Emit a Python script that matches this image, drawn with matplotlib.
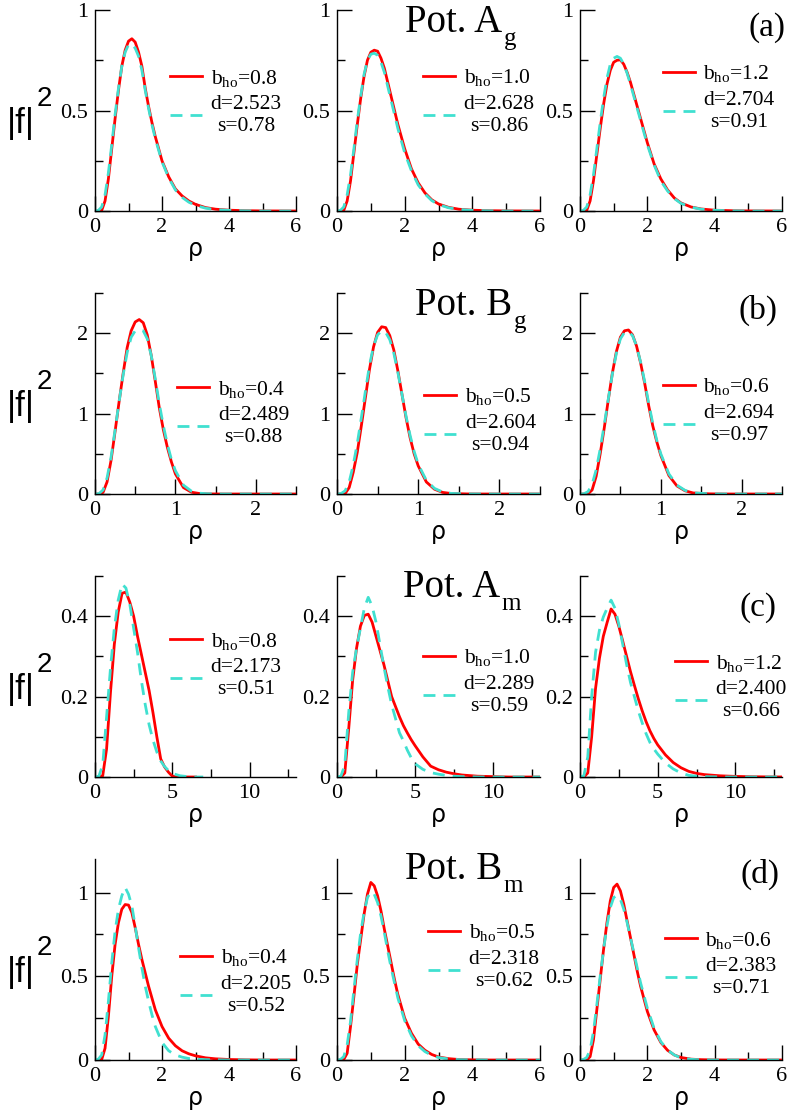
import numpy as np
import matplotlib
matplotlib.use('Agg')
import matplotlib.pyplot as plt

plt.rcParams['font.family'] = ['Liberation Serif', 'DejaVu Serif']
plt.rcParams['mathtext.fontset'] = 'custom'
plt.rcParams['mathtext.rm'] = 'Liberation Serif'
plt.rcParams['mathtext.it'] = 'Liberation Serif:italic'

# ---------------- data ----------------
rho_g = [0, 0.1, 0.2, 0.3, 0.4, 0.5, 0.6, 0.7, 0.8, 0.9, 1.0, 1.1, 1.2, 1.3, 1.4, 1.5,
         1.6, 1.7, 1.8, 2.0, 2.2, 2.4, 2.6, 2.8, 3.0, 3.3, 3.6, 4.0, 4.5, 5.0, 6.0]
rho_bg = [0, 0.05, 0.1, 0.15, 0.2, 0.25, 0.3, 0.35, 0.4, 0.45, 0.5, 0.55, 0.6, 0.65, 0.7,
          0.75, 0.8, 0.85, 0.9, 0.95, 1.0, 1.1, 1.2, 1.3, 1.4, 1.6, 1.8, 2.0, 2.5]
rho_am = [0, 0.25, 0.5, 0.75, 1, 1.25, 1.5, 1.75, 2, 2.25, 2.5, 2.75, 3, 3.25, 3.5, 3.75,
          4, 4.25, 4.5, 4.75, 5, 5.5, 6, 6.5, 7, 7.5, 8, 9, 10, 11, 12, 13]
N = None

# Pot. A_g
ag_red_08 = [0, 0, 0.003, 0.05, 0.16, 0.31, 0.46, 0.60, 0.72, 0.80, 0.845, 0.857, 0.84, 0.79, 0.72, 0.61,
             0.52, 0.44, 0.37, 0.25, 0.17, 0.11, 0.075, 0.05, 0.033, 0.017, 0.009, 0.004, 0.0015, 0.0005, 0]
ag_cyan_08 = [0, 0.003, 0.02, 0.08, 0.19, 0.33, 0.48, 0.61, 0.72, 0.79, 0.828, 0.83, 0.81, 0.77, 0.70, 0.60,
              0.51, 0.43, 0.36, 0.245, 0.165, 0.105, 0.068, 0.044, 0.028, 0.014, 0.007, 0.003, 0.001, 0, 0]
ag_red_10 = [0, 0, 0.003, 0.05, 0.15, 0.29, 0.43, 0.56, 0.67, 0.75, 0.79, 0.80, 0.795, 0.76, 0.71, 0.64,
             0.57, 0.50, 0.43, 0.31, 0.21, 0.14, 0.09, 0.056, 0.035, 0.018, 0.009, 0.004, 0.0015, 0.0005, 0]
ag_cyan_10 = [0, 0.003, 0.02, 0.08, 0.18, 0.31, 0.45, 0.57, 0.68, 0.75, 0.78, 0.785, 0.775, 0.74, 0.69, 0.62,
              0.55, 0.48, 0.41, 0.29, 0.20, 0.13, 0.085, 0.052, 0.032, 0.016, 0.008, 0.003, 0.001, 0, 0]
ag_red_12 = [0, 0, 0.003, 0.05, 0.15, 0.28, 0.41, 0.53, 0.63, 0.70, 0.74, 0.75, 0.752, 0.73, 0.69, 0.64,
             0.58, 0.52, 0.46, 0.34, 0.235, 0.16, 0.105, 0.065, 0.04, 0.02, 0.01, 0.004, 0.0015, 0.0005, 0]
ag_cyan_12 = [0, 0.003, 0.02, 0.08, 0.18, 0.31, 0.44, 0.56, 0.66, 0.73, 0.76, 0.769, 0.76, 0.73, 0.685, 0.63,
              0.57, 0.51, 0.45, 0.33, 0.23, 0.15, 0.10, 0.062, 0.038, 0.019, 0.009, 0.0035, 0.001, 0, 0]

# Pot. B_g
bg_red_04 = [0, 0, 0.02, 0.15, 0.42, 0.78, 1.15, 1.5, 1.82, 2.03, 2.14, 2.17, 2.13, 1.98, 1.72,
             1.4, 1.07, 0.8, 0.58, 0.40, 0.25, 0.08, 0.022, 0.006, 0.0015, 0, 0, 0, 0]
bg_cyan_04 = [0, 0.005, 0.05, 0.2, 0.46, 0.8, 1.15, 1.48, 1.76, 1.95, 2.03, 2.04, 2.03, 1.93, 1.72,
              1.43, 1.12, 0.85, 0.62, 0.43, 0.29, 0.11, 0.035, 0.01, 0.003, 0, 0, 0, 0]
bg_red_05 = [0, 0, 0.005, 0.08, 0.27, 0.52, 0.85, 1.2, 1.55, 1.83, 2.01, 2.08, 2.07, 1.97, 1.79,
             1.53, 1.24, 0.95, 0.7, 0.5, 0.35, 0.15, 0.06, 0.02, 0.007, 0.001, 0, 0, 0]
bg_cyan_05 = [0, 0.005, 0.04, 0.15, 0.36, 0.63, 0.95, 1.28, 1.6, 1.84, 1.98, 2.03, 2.01, 1.92, 1.75,
              1.51, 1.24, 0.97, 0.73, 0.53, 0.37, 0.17, 0.07, 0.025, 0.008, 0.001, 0, 0, 0]
bg_red_06 = [0, 0, 0.003, 0.05, 0.22, 0.5, 0.82, 1.17, 1.5, 1.77, 1.95, 2.03, 2.04, 1.98, 1.84,
             1.63, 1.38, 1.1, 0.85, 0.65, 0.48, 0.23, 0.1, 0.04, 0.013, 0.002, 0, 0, 0]
bg_cyan_06 = [0, 0.003, 0.03, 0.12, 0.3, 0.56, 0.86, 1.18, 1.49, 1.75, 1.93, 2.01, 2.02, 1.97, 1.84,
              1.64, 1.4, 1.13, 0.88, 0.67, 0.5, 0.25, 0.11, 0.045, 0.015, 0.002, 0, 0, 0]

# Pot. A_m
am_red_08 = [0, 0, 0.003, 0.07, 0.21, 0.33, 0.41, 0.457, 0.46, 0.435, 0.4, 0.35, 0.305, 0.26, 0.215, 0.16,
             0.1, 0.045, 0.025, 0.012, 0.002, 0, 0, 0, N, N, N, N, N, N, N, N]
am_cyan_08 = [0, 0.002, 0.03, 0.15, 0.27, 0.37, 0.44, 0.48, 0.47, 0.43, 0.37, 0.31, 0.24, 0.18, 0.13, 0.092,
              0.062, 0.04, 0.026, 0.016, 0.009, 0.003, 0.001, 0, 0, N, N, N, N, N, N, N]
am_red_10 = [0, 0, 0.01, 0.12, 0.24, 0.32, 0.375, 0.402, 0.405, 0.385, 0.35, 0.315, 0.28, 0.24, 0.2, 0.175,
             0.15, 0.128, 0.11, 0.093, 0.078, 0.05, 0.027, 0.018, 0.012, 0.008, 0.005, 0.002, 0.001, 0, 0, 0]
am_cyan_10 = [0, 0.002, 0.03, 0.16, 0.26, 0.32, 0.37, 0.42, 0.447, 0.425, 0.385, 0.33, 0.275, 0.225, 0.18, 0.145,
              0.11, 0.09, 0.067, 0.048, 0.033, 0.019, 0.011, 0.007, 0.004, 0.002, 0.001, 0, 0, 0, 0, 0]
am_red_12 = [0, 0, 0.01, 0.1, 0.22, 0.295, 0.35, 0.385, 0.418, 0.405, 0.375, 0.338, 0.3, 0.262, 0.228, 0.195,
             0.165, 0.138, 0.115, 0.096, 0.08, 0.055, 0.036, 0.023, 0.014, 0.009, 0.006, 0.003, 0.0015, 0.0007, 0.0003, 0.0001]
am_cyan_12 = [0, 0.003, 0.05, 0.2, 0.31, 0.365, 0.398, 0.42, 0.44, 0.42, 0.38, 0.33, 0.28, 0.235, 0.2, 0.165,
              0.135, 0.108, 0.086, 0.07, 0.057, 0.035, 0.02, 0.01, 0.004, 0.002, 0.001, 0, 0, 0, 0, 0]

# Pot. B_m
bm_red_04 = [0, 0, 0.003, 0.07, 0.26, 0.5, 0.69, 0.82, 0.9, 0.928, 0.925, 0.88, 0.79, 0.69, 0.6, 0.52,
             0.44, 0.37, 0.3, 0.2, 0.13, 0.085, 0.055, 0.037, 0.025, 0.013, 0.007, 0.003, 0.001, 0, 0]
bm_cyan_04 = [0, 0.005, 0.03, 0.15, 0.35, 0.58, 0.77, 0.9, 0.98, 1.03, 0.99, 0.92, 0.8, 0.67, 0.55, 0.44,
              0.35, 0.27, 0.2, 0.105, 0.055, 0.03, 0.017, 0.009, 0.005, 0.002, 0.001, 0, 0, 0, 0]
bm_red_05 = [0, 0, 0.003, 0.04, 0.2, 0.38, 0.57, 0.72, 0.87, 0.99, 1.06, 1.04, 0.98, 0.89, 0.78, 0.68,
             0.58, 0.48, 0.39, 0.25, 0.16, 0.095, 0.058, 0.033, 0.018, 0.008, 0.003, 0.001, 0, 0, 0]
bm_cyan_05 = [0, 0.003, 0.02, 0.09, 0.23, 0.42, 0.6, 0.76, 0.88, 0.97, 1.005, 0.99, 0.94, 0.86, 0.76, 0.65,
              0.55, 0.46, 0.37, 0.235, 0.145, 0.085, 0.05, 0.028, 0.015, 0.006, 0.002, 0.001, 0, 0, 0]
bm_red_06 = [0, 0, 0, 0.02, 0.12, 0.3, 0.48, 0.66, 0.82, 0.95, 1.03, 1.05, 1.01, 0.93, 0.83, 0.73,
             0.63, 0.53, 0.44, 0.29, 0.18, 0.105, 0.058, 0.03, 0.015, 0.005, 0.002, 0.0005, 0, 0, 0]
bm_cyan_06 = [0, 0.003, 0.015, 0.06, 0.17, 0.33, 0.5, 0.66, 0.8, 0.91, 0.97, 0.982, 0.96, 0.9, 0.82, 0.73,
              0.64, 0.55, 0.46, 0.31, 0.19, 0.11, 0.06, 0.03, 0.013, 0.004, 0.001, 0, 0, 0, 0]

bho_labels = [['0.8', '1.0', '1.2'], ['0.4', '0.5', '0.6'], ['0.8', '1.0', '1.2'], ['0.4', '0.5', '0.6']]
d_labels = [['2.523', '2.628', '2.704'], ['2.489', '2.604', '2.694'],
            ['2.173', '2.289', '2.400'], ['2.205', '2.318', '2.383']]
s_labels = [['0.78', '0.86', '0.91'], ['0.88', '0.94', '0.97'],
            ['0.51', '0.59', '0.66'], ['0.52', '0.62', '0.71']]
pot_names = ['A', 'B', 'A', 'B']
pot_subs = ['g', 'g', 'm', 'm']
panel_tags = ['(a)', '(b)', '(c)', '(d)']

row_x = [rho_g, rho_bg, rho_am, rho_g]
row_red = [[ag_red_08, ag_red_10, ag_red_12], [bg_red_04, bg_red_05, bg_red_06],
           [am_red_08, am_red_10, am_red_12], [bm_red_04, bm_red_05, bm_red_06]]
row_cyan = [[ag_cyan_08, ag_cyan_10, ag_cyan_12], [bg_cyan_04, bg_cyan_05, bg_cyan_06],
            [am_cyan_08, am_cyan_10, am_cyan_12], [bm_cyan_04, bm_cyan_05, bm_cyan_06]]

xlims = [(0, 6), (0, 2.5), (0, 13), (0, 6)]
ylims = [(0, 1), (0, 2.5), (0, 0.5), (0, 1.2)]
x_major = [[0, 2, 4, 6], [0, 1, 2], [0, 5, 10], [0, 2, 4, 6]]
x_major_lab = [['0', '2', '4', '6'], ['0', '1', '2'], ['0', '5', '10'], ['0', '2', '4', '6']]
x_minor = [[1, 3, 5], [0.5, 1.5, 2.5], [2.5, 7.5, 12.5], [1, 3, 5]]
y_major = [[0, 0.5, 1], [0, 1, 2], [0, 0.2, 0.4], [0, 0.5, 1]]
y_major_lab = [['0', '0.5', '1'], ['0', '1', '2'], ['0', '0.2', '0.4'], ['0', '0.5', '1']]
y_minor = [[0.25, 0.75], [0.5, 1.5, 2.5], [0.1, 0.3, 0.5], [0.25, 0.75]]

# ---------------- layout ----------------
W, H = 789, 1114
fig = plt.figure(figsize=(W / 100, H / 100), dpi=100)
col_left = [95, 337, 580]
col_w = [201, 203, 202]
row_top = [10, 293, 576, 859]
row_h = 201

leg_pos = [[(0.373, 0.667), (0.424, 0.67), (0.41, 0.69)],
           [(0.41, 0.527), (0.43, 0.49), (0.41, 0.54)],
           [(0.373, 0.683), (0.424, 0.60), (0.47, 0.574)],
           [(0.423, 0.515), (0.448, 0.64), (0.42, 0.604)]]
title_pos = [(0.335, 0.89), (0.385, 0.89), (0.325, 0.895), (0.335, 0.90)]
tag_pos = [(1.015, 0.873), (0.98, 0.87), (0.975, 0.80), (0.99, 0.88)]

RED = '#ff0000'
CYAN = '#40e0d0'
LEG_FS = 15.5

for r in range(4):
    for c in range(3):
        ax = fig.add_axes([col_left[c] / W, 1 - (row_top[r] + row_h) / H, col_w[c] / W, row_h / H])
        x = np.array(row_x[r], dtype=float)
        yr = np.array(row_red[r][c], dtype=float)
        yc = np.array(row_cyan[r][c], dtype=float)
        h1, = ax.plot(x, yr, color=RED, lw=2.0)
        h2, = ax.plot(x, yc, color=CYAN, lw=2.0, dashes=(4.3, 2.9))
        ax.set_xlim(*xlims[r])
        ax.set_ylim(*ylims[r])
        ax.set_xticks(x_major[r], x_major_lab[r])
        ax.set_xticks(x_minor[r], minor=True)
        ax.set_yticks(y_major[r], y_major_lab[r])
        ax.set_yticks(y_minor[r], minor=True)
        for s in ['top', 'right']:
            ax.spines[s].set_visible(False)
        for s in ['left', 'bottom']:
            ax.spines[s].set_linewidth(1.0)
        ax.tick_params(which='both', direction='in', width=1.0, labelsize=16, pad=5)
        ax.tick_params(which='major', length=10.8)
        ax.tick_params(which='minor', length=5.8)
        ax.set_xlabel('ρ', family='DejaVu Sans', fontsize=17, labelpad=0)

        lx, ly = leg_pos[r][c]
        leg = ax.legend([h1, h2],
                        [r'b$_{\mathrm{ho}}$=' + bho_labels[r][c],
                         'd=' + d_labels[r][c] + '\n' + 's=' + s_labels[r][c]],
                        loc='upper left', bbox_to_anchor=(lx, ly + 0.045),
                        frameon=False, borderpad=0, borderaxespad=0,
                        handlelength=32 / (LEG_FS * 100 / 72), handletextpad=0.4, labelspacing=0.3,
                        prop={'family': 'Liberation Serif', 'size': LEG_FS})
        for t in leg.get_texts():
            t.set_multialignment('center')

        if c == 0:
            ax.text(-0.438, 0.388, '|f|', transform=ax.transAxes, family='Liberation Sans',
                    fontsize=25, ha='left', va='baseline')
            ax.text(-0.289, 0.522, '2', transform=ax.transAxes, family='Liberation Sans',
                    fontsize=20, ha='left', va='baseline')
        if c == 1:
            tx, ty = title_pos[r]
            t = ax.text(tx, ty, 'Pot. ' + pot_names[r], transform=ax.transAxes,
                        fontsize=28, ha='left', va='baseline')
            ax.annotate(pot_subs[r], xy=(1, 0), xycoords=t, xytext=(1, -3),
                        textcoords='offset points', fontsize=18, ha='left', va='baseline')
        if c == 2:
            px, py = tag_pos[r]
            ax.text(px, py, panel_tags[r], transform=ax.transAxes, fontsize=24,
                    ha='right', va='baseline')

fig.savefig('out.png', dpi=100)
